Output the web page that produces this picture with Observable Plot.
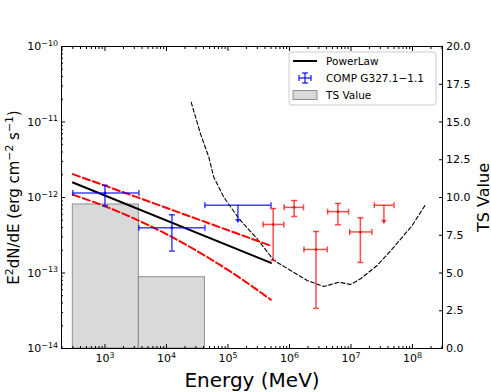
<!DOCTYPE html>
<html><head><meta charset="utf-8">
<script src="https://cdn.jsdelivr.net/npm/d3@7"></script>
<script src="https://cdn.jsdelivr.net/npm/@observablehq/plot@0.6"></script>
<style>body{margin:0;background:#fff} svg{font-family:"DejaVu Sans",sans-serif}</style>
</head><body><div id="chart"></div><script>
// ---- data (energies in MeV, E^2 dN/dE in erg cm^-2 s^-1) ----
// Blue points: COMP G327.1-1.1
const blueE    = [1000, 12250, 145000];
const blueElo  = [300, 3557, 42170];
const blueEhi  = [3557, 42170, 500000];
const blueFlux = [1.15e-12, 3.97e-13, 7.9e-13];
const blueFluxLo = [7.8e-13, 1.95e-13, null];
const blueFluxHi = [1.45e-12, 5.9e-13, null];
const blueUL   = [false, false, true];
const blueTip  = [null, null, 4.62e-13];

// Red points
const redE    = [543000, 1.19e6, 2.70e6, 6.14e6, 1.42e7, 3.43e7];
const redElo  = [373000, 822000, 1.72e6, 4.17e6, 9.55e6, 2.40e7];
const redEhi  = [807000, 1.69e6, 4.12e6, 9.12e6, 2.19e7, 5.01e7];
const redFlux = [4.4e-13, 7.4e-13, 2.05e-13, 6.5e-13, 3.5e-13, 7.9e-13];
const redFluxLo = [1.47e-13, 5.6e-13, 3.4e-14, 4.35e-13, 1.38e-13, null];
const redFluxHi = [7.14e-13, 9.12e-13, 3.55e-13, 8.34e-13, 5.38e-13, null];
const redUL   = [false, false, false, false, false, true];
const redTip  = [null, null, null, null, null, 4.49e-13];

// PowerLaw model and its band
const plE    = [300, 500000];
const plFlux = [1.58e-12, 1.36e-13];
const bandUpE    = [300, 3557, 500000];
const bandUpFlux = [2.04e-12, 9.9e-13, 2.29e-13];
const bandLoE    = [300, 948, 3467, 11940, 41980, 150300, 500000];
const bandLoFlux = [1.09e-12, 7.78e-13, 4.98e-13, 3.03e-13, 1.70e-13, 8.81e-14, 4.42e-14];

// Sensitivity curve (black dashed)
const sensE    = [25200, 35700, 48800, 58700, 85500, 150000, 298500, 556000, 1.04e6, 1.94e6, 3.61e6, 6.34e6, 9.82e6, 1.43e7, 2.67e7, 4.97e7, 9.89e7, 1.63e8];
const sensFlux = [1.83e-11, 6.98e-12, 3.42e-12, 1.86e-12, 1.01e-12, 5.27e-13, 2.84e-13, 1.47e-13, 1.08e-13, 7.96e-14, 6.62e-14, 7.55e-14, 7.05e-14, 8.38e-14, 1.26e-13, 2.20e-13, 4.26e-13, 8.07e-13];

// TS values per bin (right axis)
const tsLo  = [300, 3557, 42170];
const tsHi  = [3557, 42170, 500000];
const tsVal = [9.54, 4.72, 0];
const tsTicks = [0, 2.5, 5, 7.5, 10, 12.5, 15, 17.5, 20];

// labels
const xLabel = "Energy (MeV)";
const yLabel = "E²dN/dE (erg cm⁻² s⁻¹)";
const tsLabel = "TS Value";
const legendLabels = ["PowerLaw", "COMP G327.1−1.1", "TS Value"];

// ---- helpers ----
const yMin = 1e-14, yMax = 1e-10, tsMax = 20;
const tsToY = t => 10 ** (Math.log10(yMin) + t / tsMax * Math.log10(yMax / yMin));
const supMap = {"-": "⁻", "0": "⁰", "1": "¹", "2": "²", "3": "³", "4": "⁴", "5": "⁵", "6": "⁶", "7": "⁷", "8": "⁸", "9": "⁹"};
const supFmt = d => "10" + String(Math.round(Math.log10(d))).split("").map(c => supMap[c]).join("");

const xDomain = [10 ** 2.293, 10 ** 8.488];
const inX = v => v >= xDomain[0] && v <= xDomain[1];
const xMajor = d3.range(2, 9).map(k => 10 ** k).filter(inX);
const xMinor = d3.range(2, 9).flatMap(k => d3.range(2, 10).map(m => m * 10 ** k)).filter(inX);
const yMajor = d3.range(-14, -9).map(k => 10 ** k);
const yMinor = d3.range(-14, -10).flatMap(k => d3.range(2, 10).map(m => m * 10 ** k));

const zip = (E, lo, hi, f, fLo, fHi, ul, tip) => E.map((e, i) => ({e, lo: lo[i], hi: hi[i], f: f[i], fLo: fLo[i], fHi: fHi[i], ul: ul[i], tip: tip[i]}));
const blue = zip(blueE, blueElo, blueEhi, blueFlux, blueFluxLo, blueFluxHi, blueUL, blueTip);
const red = zip(redE, redElo, redEhi, redFlux, redFluxLo, redFluxHi, redUL, redTip);
const pl = plE.map((e, i) => ({e, f: plFlux[i]}));
const bandUp = bandUpE.map((e, i) => ({e, f: bandUpFlux[i]}));
const bandLo = bandLoE.map((e, i) => ({e, f: bandLoFlux[i]}));
const sens = sensE.map((e, i) => ({e, f: sensFlux[i]}));
const ts = tsVal.map((t, i) => ({lo: tsLo[i], hi: tsHi[i], t}));

const hcap = {draw(ctx, size) { const r = Math.sqrt(size / Math.PI); ctx.moveTo(-r, 0); ctx.lineTo(r, 0); }};
const vcap = {draw(ctx, size) { const r = Math.sqrt(size / Math.PI); ctx.moveTo(0, -r); ctx.lineTo(0, r); }};
const downArrow = {draw(ctx, size) { const r = Math.sqrt(size / Math.PI); ctx.moveTo(-r, -r * 1.3); ctx.lineTo(r, -r * 1.3); ctx.lineTo(0, 0); ctx.closePath(); }};

function errMarks(rows, color, op) {
  const det = rows.filter(d => !d.ul), ul = rows.filter(d => d.ul);
  const s = {stroke: color, strokeOpacity: op, strokeWidth: 1.5};
  return [
    Plot.ruleY(rows, {x1: "lo", x2: "hi", y: "f", ...s}),
    Plot.dot(rows, {x: "lo", y: "f", symbol: vcap, r: 3, fill: "none", ...s}),
    Plot.dot(rows, {x: "hi", y: "f", symbol: vcap, r: 3, fill: "none", ...s}),
    Plot.ruleX(det, {x: "e", y1: "fLo", y2: "fHi", ...s}),
    Plot.dot(det, {x: "e", y: "fLo", symbol: hcap, r: 3, fill: "none", ...s}),
    Plot.dot(det, {x: "e", y: "fHi", symbol: hcap, r: 3, fill: "none", ...s}),
    Plot.dot(det, {x: "e", y: "f", r: 1.5, fill: color, fillOpacity: op, stroke: null}),
    Plot.ruleX(ul, {x: "e", y1: "f", y2: "tip", ...s}),
    Plot.dot(ul, {x: "e", y: "tip", symbol: downArrow, r: 3, fill: color, fillOpacity: op, stroke: null})
  ];
}

const fs = 11;
const chart = Plot.plot({
  width: 491, height: 392,
  marginLeft: 61, marginRight: 49, marginTop: 46, marginBottom: 44,
  style: {fontFamily: "DejaVu Sans", fontSize: fs + "px", color: "black", background: "white"},
  x: {type: "log", domain: xDomain, label: null},
  y: {type: "log", domain: [yMin, yMax], label: null},
  marks: [
    Plot.rect(ts, {x1: "lo", x2: "hi", y1: () => yMin, y2: d => tsToY(d.t), fill: "#d9d9d9", stroke: "#7f7f7f", strokeOpacity: 0.85}),
    Plot.line(sens, {x: "e", y: "f", stroke: "black", strokeWidth: 1.1, strokeDasharray: "4,2.4"}),
    Plot.line(bandUp, {x: "e", y: "f", stroke: "red", strokeWidth: 2, strokeDasharray: "7.4,3.2"}),
    Plot.line(bandLo, {x: "e", y: "f", stroke: "red", strokeWidth: 2, strokeDasharray: "7.4,3.2", curve: "monotone-x"}),
    Plot.line(pl, {x: "e", y: "f", stroke: "black", strokeWidth: 2}),
    ...errMarks(blue, "blue", 0.75),
    ...errMarks(red, "red", 0.7),
    Plot.frame({stroke: "black", strokeWidth: 1}),
    Plot.axisX(xMajor, {anchor: "bottom", tickSize: -4, tickPadding: 10, tickFormat: supFmt, fontSize: fs, label: null}),
    Plot.axisX(xMinor, {anchor: "bottom", tickSize: -2, tickFormat: () => "", label: null}),
    Plot.axisX(xMajor, {anchor: "top", tickSize: -4, tickFormat: () => "", label: null}),
    Plot.axisX(xMinor, {anchor: "top", tickSize: -2, tickFormat: () => "", label: null}),
    Plot.axisY(yMajor, {anchor: "left", tickSize: -4, tickPadding: 7.5, tickFormat: supFmt, fontSize: fs, label: null}),
    Plot.axisY(yMinor, {anchor: "left", tickSize: -2, tickFormat: () => "", label: null}),
    Plot.axisY(tsTicks.map(tsToY), {anchor: "right", tickSize: -4, tickFormat: () => "", label: null}),
    Plot.text(tsTicks, {y: d => tsToY(d), text: d => d.toFixed(1), frameAnchor: "right", dx: 3.5, textAnchor: "start", fontSize: fs}),
    Plot.text([yLabel], {text: d => d, frameAnchor: "left", dx: -43, rotate: -90, fontSize: 15, lineAnchor: "bottom", textAnchor: "middle"}),
    Plot.text([tsLabel], {text: d => d, frameAnchor: "right", dx: 46, rotate: -90, fontSize: 16, lineAnchor: "bottom", textAnchor: "middle"}),
    Plot.text([xLabel], {text: d => d, frameAnchor: "bottom", dy: 38, fontSize: 20, lineAnchor: "bottom", textAnchor: "middle"})
  ]
});
document.getElementById("chart").appendChild(chart);

// ---- render Unicode superscripts as raised, smaller text (like mathtext) ----
const supBack = Object.fromEntries(Object.entries(supMap).map(([k, v]) => [v, k === "-" ? "−" : k]));
const isSup = c => c in supBack;
d3.select(chart).selectAll("text").each(function () {
  const el = d3.select(this);
  if (el.selectAll("tspan").size() > 0) return;
  const s = this.textContent;
  if (!s.split("").some(isSup)) return;
  const size = parseFloat(getComputedStyle(this).fontSize) || fs;
  const supSize = size * 0.72, shift = size * 0.4;
  const runs = [];
  for (const c of s) {
    const sup = isSup(c);
    if (runs.length && runs[runs.length - 1].sup === sup) runs[runs.length - 1].t += sup ? supBack[c] : c;
    else runs.push({sup, t: sup ? supBack[c] : c});
  }
  el.text(null);
  let raised = false;
  for (const r of runs) {
    const t = el.append("tspan").text(r.t);
    if (r.sup) { t.attr("font-size", supSize + "px").attr("dy", (-shift) + "px"); raised = true; }
    else if (raised) { t.attr("dy", shift + "px"); raised = false; }
  }
});

// ---- legend ----
const svg = d3.select(chart);
const lg = svg.append("g").attr("font-family", "DejaVu Sans").attr("font-size", "10.5px").attr("text-anchor", "start");
lg.append("rect").attr("x", 289).attr("y", 52).attr("width", 147).attr("height", 53).attr("rx", 3)
  .attr("fill", "white").attr("fill-opacity", 0.85).attr("stroke", "#cccccc");
const rowY = [61, 78, 95];
lg.append("line").attr("x1", 293).attr("x2", 317).attr("y1", rowY[0]).attr("y2", rowY[0]).attr("stroke", "black").attr("stroke-width", 2);
const eb = lg.append("g").attr("stroke", "blue").attr("stroke-opacity", 0.75).attr("stroke-width", 1.5);
eb.append("line").attr("x1", 299).attr("x2", 311).attr("y1", rowY[1]).attr("y2", rowY[1]);
eb.append("line").attr("x1", 305).attr("x2", 305).attr("y1", rowY[1] - 5).attr("y2", rowY[1] + 5);
eb.append("line").attr("x1", 299).attr("x2", 299).attr("y1", rowY[1] - 3).attr("y2", rowY[1] + 3);
eb.append("line").attr("x1", 311).attr("x2", 311).attr("y1", rowY[1] - 3).attr("y2", rowY[1] + 3);
eb.append("line").attr("x1", 302).attr("x2", 308).attr("y1", rowY[1] - 5).attr("y2", rowY[1] - 5);
eb.append("line").attr("x1", 302).attr("x2", 308).attr("y1", rowY[1] + 5).attr("y2", rowY[1] + 5);
lg.append("rect").attr("x", 293).attr("y", rowY[2] - 4.5).attr("width", 24).attr("height", 9)
  .attr("fill", "#d9d9d9").attr("stroke", "#7f7f7f").attr("stroke-opacity", 0.85);
legendLabels.forEach((t, i) => {
  lg.append("text").attr("x", 326).attr("y", rowY[i]).attr("dy", "0.35em").attr("fill", "black").attr("text-anchor", "start").text(t);
});
</script></body></html>
